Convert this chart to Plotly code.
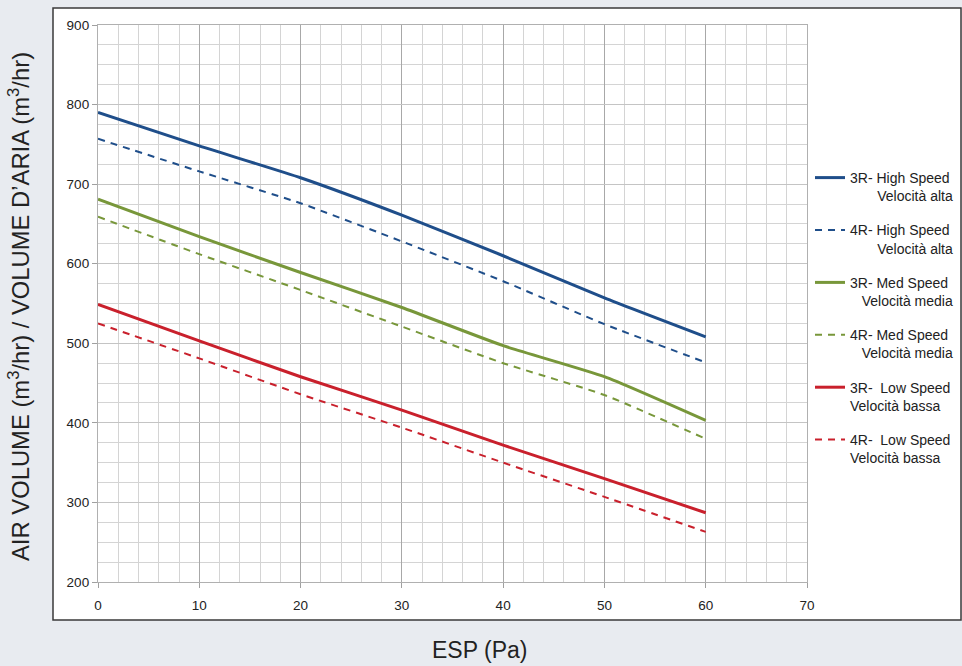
import plotly.graph_objects as go

esp = [0, 10, 20, 30, 40, 50, 60]
hi_3r = [790, 748, 708, 661, 610, 557, 508]
hi_4r = [757, 716, 676, 628, 578, 524, 476]
med_3r = [681, 634, 589, 545, 497, 458, 403]
med_4r = [659, 612, 567, 521, 475, 435, 380]
low_3r = [549, 503, 458, 416, 372, 330, 287]
low_4r = [525, 481, 436, 394, 350, 307, 263]

NB = "\u00a0"
names = [
    "3R- High Speed<br>" + NB * 7 + "Velocità alta",
    "4R- High Speed<br>" + NB * 7 + "Velocità alta",
    "3R- Med Speed<br>" + NB * 3 + "Velocità media",
    "4R- Med Speed<br>" + NB * 3 + "Velocità media",
    "3R-  Low Speed<br>" + "Velocità bassa",
    "4R-  Low Speed<br>" + "Velocità bassa",
]
series = [hi_3r, hi_4r, med_3r, med_4r, low_3r, low_4r]
colors = ["#1f4e8a", "#1f4e8a", "#78973a", "#78973a", "#c9202c", "#c9202c"]
dashes = ["solid", "7px,6px", "solid", "7px,6px", "solid", "7px,6px"]
widths = [3, 2, 3, 2, 3, 2]

fig = go.Figure()
for i, (nm, ys) in enumerate(zip(names, series)):
    fig.add_trace(go.Scatter(
        x=esp, y=ys, mode="lines", name=nm, legendgroup=f"g{i}",
        line=dict(color=colors[i], width=widths[i], dash=dashes[i],
                  shape="spline", smoothing=0.5),
    ))

L, R, T, B = 98, 807, 25, 582
W, H = 962, 666
pw, ph = R - L, B - T

def px(x):
    return (x - L) / pw

def py(y):
    return (B - y) / ph

fig.add_shape(type="rect", xref="paper", yref="paper", layer="below",
              x0=px(53), x1=px(961), y0=py(620), y1=py(8),
              fillcolor="white", line=dict(color="#3a3a3a", width=1.5))

fig.add_annotation(text="ESP (Pa)", xref="paper", yref="paper",
                   x=px(479), y=py(650), showarrow=False,
                   font=dict(size=23, color="#222"), xanchor="center", yanchor="middle")

fig.add_annotation(text="AIR VOLUME (m<sup>3</sup>/hr) / VOLUME D\u2019ARIA (m<sup>3</sup>/hr)",
                   xref="paper", yref="paper", x=px(19), y=py(307), textangle=-90,
                   showarrow=False, font=dict(size=23.8, color="#222"),
                   xanchor="center", yanchor="middle")

fig.update_layout(
    width=W, height=H,
    margin=dict(l=L, r=W - R, t=T, b=H - B, autoexpand=False),
    paper_bgcolor="#e8ebf0", plot_bgcolor="rgba(0,0,0,0)",
    font=dict(family="Liberation Sans, Arial, sans-serif", color="#222"),
    showlegend=True,
    legend=dict(x=px(810), y=py(162), xanchor="left", yanchor="top",
                bgcolor="rgba(0,0,0,0)", font=dict(size=14, color="#222"),
                tracegroupgap=13, valign="top"),
)
fig.update_xaxes(range=[0, 70], dtick=10, tick0=0,
                 showgrid=True, gridcolor="#a8a8a8", gridwidth=1,
                 minor=dict(dtick=2, showgrid=True, gridcolor="#d4d4d4", gridwidth=1.3),
                 ticks="outside", ticklen=5, tickcolor="#a0a0a0",
                 showline=True, linecolor="#b0b0b0", linewidth=1.3, mirror=True,
                 zeroline=False, tickfont=dict(size=13.5, color="#222"),
                 ticklabelstandoff=6)
fig.update_yaxes(range=[200, 900], dtick=100, tick0=200,
                 showgrid=True, gridcolor="#c4c4c4", gridwidth=1.3,
                 minor=dict(dtick=25, showgrid=True, gridcolor="#d4d4d4", gridwidth=1.3),
                 ticks="outside", ticklen=5, tickcolor="#a0a0a0",
                 showline=True, linecolor="#b0b0b0", linewidth=1.3, mirror=True,
                 zeroline=False, tickfont=dict(size=13.5, color="#222"))

fig.write_html("out.html", config={"displayModeBar": False},
               post_script="document.body.style.margin='0';document.body.style.overflow='hidden';")
